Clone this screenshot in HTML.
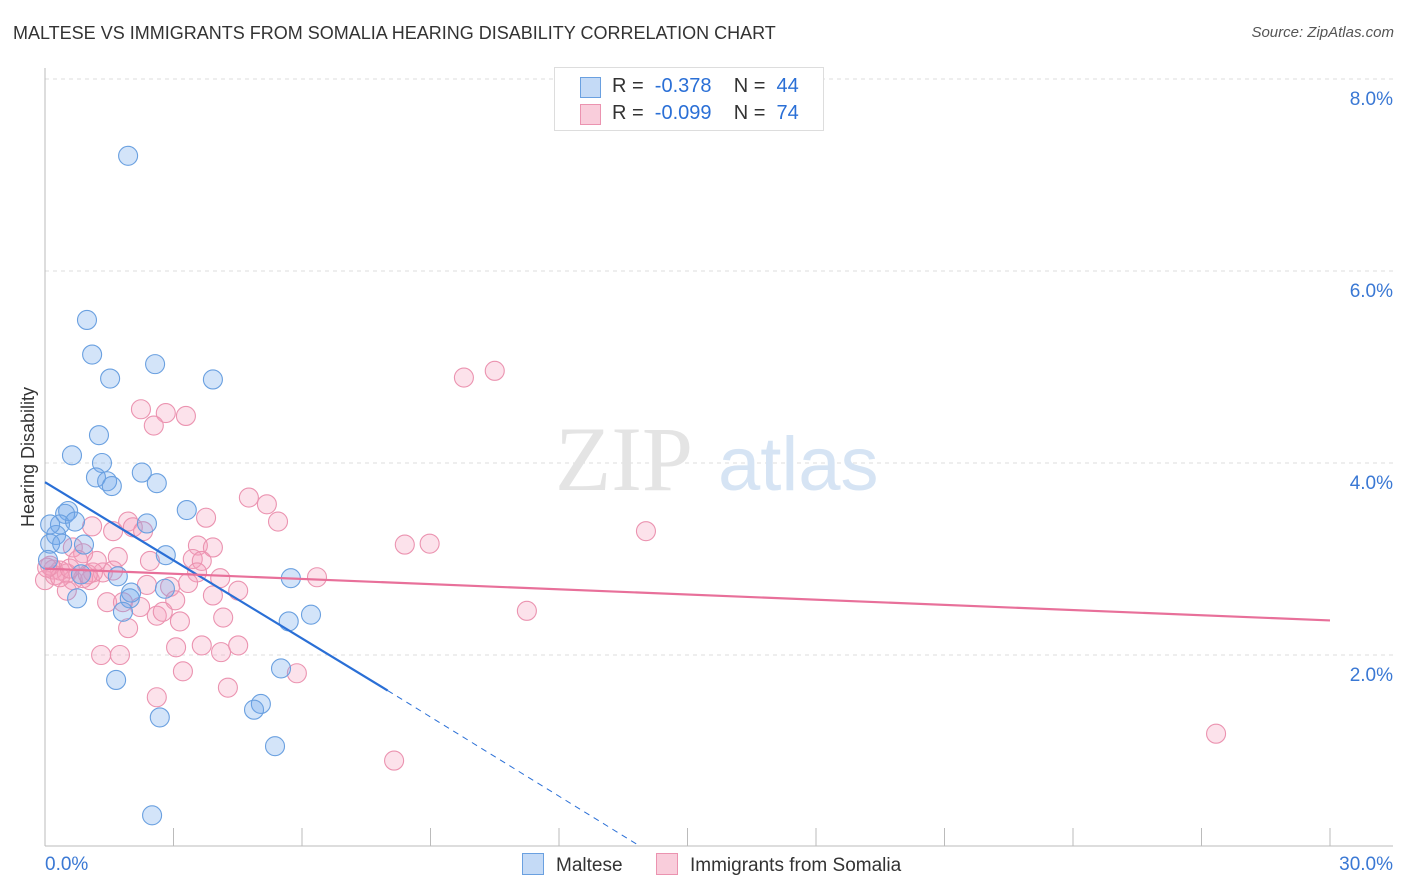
<!DOCTYPE html>
<html><head><meta charset="utf-8"><style>
body{margin:0;background:#fff;font-family:"Liberation Sans",sans-serif;}
#wrap{position:relative;width:1406px;height:892px;overflow:hidden}
.t{position:absolute;white-space:nowrap}
</style></head><body><div id="wrap">
<div class="t" style="left:13px;top:23px;font-size:18px;color:#333">MALTESE VS IMMIGRANTS FROM SOMALIA HEARING DISABILITY CORRELATION CHART</div>
<div class="t" style="right:12px;top:24px;font-size:15px;color:#555;font-style:italic">Source: ZipAtlas.com</div>
<svg id="svg" width="1406" height="892" style="position:absolute;left:0;top:0"></svg>
</div>
<script>
const xTicks=[0,3,6,9,12,15,18,21,24,27,30];
const yTicks=[2,4,6,8];
const yTickLabels=["2.0%","4.0%","6.0%","8.0%"];
const malteseX=[1.94,0.98,1.1,2.57,1.52,3.92,1.26,0.63,1.33,2.26,1.19,1.45,1.56,2.61,3.31,0.54,0.47,0.35,0.7,2.38,0.26,0.12,0.4,0.91,2.82,0.84,1.7,5.74,2.8,2.01,1.98,0.75,1.82,5.69,6.21,5.51,1.66,5.04,4.88,2.68,5.37,2.5,0.12,0.07];
const malteseY=[7.2,5.49,5.13,5.03,4.88,4.87,4.29,4.08,4.0,3.9,3.85,3.81,3.76,3.79,3.51,3.5,3.47,3.36,3.39,3.37,3.25,3.16,3.16,3.15,3.04,2.84,2.82,2.8,2.69,2.65,2.59,2.59,2.45,2.35,2.42,1.86,1.74,1.49,1.43,1.35,1.05,0.33,3.36,2.99];
const somaliaX=[2.24,2.82,3.29,2.54,4.76,5.18,5.44,3.76,1.94,2.05,1.1,1.59,2.29,3.57,3.92,3.45,3.66,0.65,0.89,0.35,0.19,0.51,0.65,1.05,1.35,1.12,3.55,4.09,3.34,2.38,2.92,4.51,3.92,3.04,1.45,2.22,1.82,2.61,2.75,3.15,1.94,4.16,1.31,3.06,3.66,4.11,4.51,1.75,3.22,5.88,4.27,2.61,6.35,0.51,9.78,10.5,14.03,8.4,8.98,11.25,8.15,27.34,0,0.23,0.12,0.35,0.05,0.89,1.0,1.59,1.21,0.58,1.7,0.77,2.45];
const somaliaY=[4.56,4.52,4.49,4.39,3.64,3.57,3.39,3.43,3.39,3.33,3.34,3.29,3.29,3.14,3.12,3.0,2.98,3.12,3.06,2.88,2.89,2.85,2.78,2.78,2.86,2.86,2.86,2.8,2.75,2.73,2.71,2.67,2.62,2.57,2.55,2.5,2.55,2.41,2.45,2.35,2.28,2.39,2.0,2.08,2.1,2.03,2.1,2.0,1.83,1.81,1.66,1.56,2.81,2.67,4.89,4.96,3.29,3.15,3.16,2.46,0.9,1.18,2.78,2.83,2.93,2.81,2.91,2.8,2.84,2.88,2.98,2.9,3.02,2.99,2.98];
const X0=45,X1=1330,Y0=847;
const xs=v=>X0+v/30*(X1-X0);
const ys=v=>Y0-v*96;
const svg=document.getElementById('svg');const NS="http://www.w3.org/2000/svg";
function mk(tag,attrs,parent){const e=document.createElementNS(NS,tag);for(const k in attrs)e.setAttribute(k,attrs[k]);(parent||svg).appendChild(e);return e;}
yTicks.forEach((t,i)=>{
 const l=mk('line',{x1:45,x2:1393,y1:ys(t),y2:ys(t),stroke:'#ddd','stroke-dasharray':'4,4'});
 
 
 const tx=mk('text',{x:1393,y:ys(t)+26,'text-anchor':'end','font-size':19,fill:'#3a78d4'});tx.textContent=yTickLabels[i];
 
 
});
const ax=mk('line',{x1:45,x2:45,y1:68,y2:846,stroke:'#bbb'});


const bx=mk('line',{x1:45,x2:1393,y1:846,y2:846,stroke:'#bbb'});


xTicks.forEach(t=>{const l=mk('line',{x1:xs(t),x2:xs(t),y1:828,y2:846,stroke:'#bbb'});
 
 });
[["0.0%",45,'start'],["30.0%",1393,'end']].forEach(a=>{const t=mk('text',{x:a[1],y:870,'text-anchor':a[2],'font-size':19,fill:'#3a78d4'});t.textContent=a[0];
 
 });
const yt=mk('text',{x:0,y:0,transform:'translate(34,457) rotate(-90)','text-anchor':'middle','font-size':18,fill:'#333'});yt.textContent='Hearing Disability';


const wm=mk('text',{x:555,y:490,'font-size':92,fill:'#e4e4e4','font-family':'Liberation Serif'});wm.textContent='ZIP';


const wm2=mk('text',{x:718,y:490,'font-size':76,fill:'#d6e4f4'});wm2.textContent='atlas';


somaliaX.forEach((v,i)=>{const c=mk('circle',{cx:xs(v),cy:ys(somaliaY[i]),r:9.5,fill:'rgba(244,160,190,0.3)',stroke:'#eb93b0','stroke-width':1.1});
 
 });
malteseX.forEach((v,i)=>{const c=mk('circle',{cx:xs(v),cy:ys(malteseY[i]),r:9.5,fill:'rgba(110,165,235,0.3)',stroke:'#6aa0e0','stroke-width':1.1});
 
 });
const bl=mk('line',{x1:xs(0),y1:ys(3.8),x2:xs(8),y2:ys(1.63),stroke:'#2a6fd6','stroke-width':2.2});


const bd=mk('line',{x1:xs(8),y1:ys(1.63),x2:xs(13.85),y2:ys(0.02),stroke:'#2a6fd6','stroke-width':1,'stroke-dasharray':'6,5'});


const pl=mk('line',{x1:xs(0),y1:ys(2.9),x2:xs(30),y2:ys(2.36),stroke:'#e8709a','stroke-width':2.2});


</script>
<div class="t" style="left:554px;top:67px;width:268px;height:62px;border:1px solid #ddd;background:#fff;font-size:20px;color:#333">
 <div style="position:absolute;left:25px;top:9px;width:19px;height:19px;background:#c4daf6;border:1px solid #6aa0e0"></div>
 <div style="position:absolute;left:57px;top:7px">R = &nbsp;<span style="color:#2a6fd6">-0.378</span>&nbsp;&nbsp;&nbsp; N = &nbsp;<span style="color:#2a6fd6">44</span></div>
 <div style="position:absolute;left:25px;top:36px;width:19px;height:19px;background:#f9cddb;border:1px solid #eb93b0"></div>
 <div style="position:absolute;left:57px;top:34px">R = &nbsp;<span style="color:#2a6fd6">-0.099</span>&nbsp;&nbsp;&nbsp; N = &nbsp;<span style="color:#2a6fd6">74</span></div>
</div>
<div class="t" style="left:522px;top:853px;font-size:19px;color:#333"><span style="display:inline-block;width:20px;height:20px;background:#c4daf6;border:1px solid #6aa0e0;vertical-align:-4px;margin-right:12px"></span>Maltese</div>
<div class="t" style="left:656px;top:853px;font-size:19px;color:#333"><span style="display:inline-block;width:20px;height:20px;background:#f9cddb;border:1px solid #eb93b0;vertical-align:-4px;margin-right:12px"></span>Immigrants from Somalia</div>
</body></html>
